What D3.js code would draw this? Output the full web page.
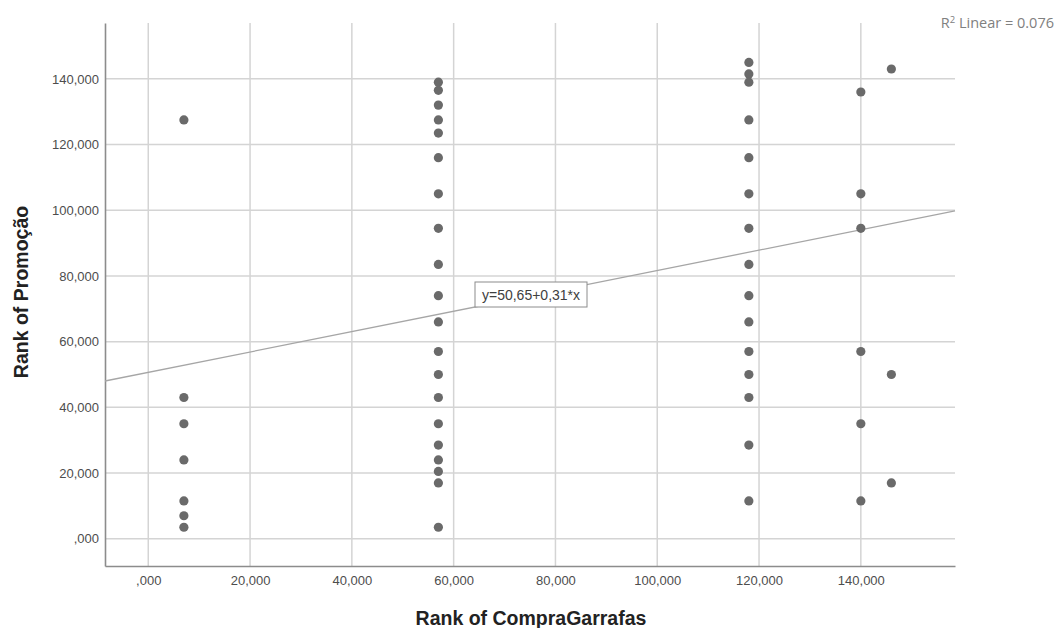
<!DOCTYPE html>
<html>
<head>
<meta charset="utf-8">
<script src="https://cdn.jsdelivr.net/npm/d3@7"></script>
<style>
  body { margin: 0; background: #fff; }
  svg { display: block; }
</style>
</head>
<body>
<div id="chart"></div>
<script>
// ranks (x = Rank of CompraGarrafas, y = Rank of Promoção)
var col1Y = [127.5, 43, 35, 24, 11.5, 7, 3.5];
var col2Y = [139, 136.5, 132, 127.5, 123.5, 116, 105, 94.5, 83.5, 74, 66, 57, 50, 43, 35, 28.5, 24, 20.5, 17, 3.5];
var col3Y = [145, 141.5, 139, 127.5, 116, 105, 94.5, 83.5, 74, 66, 57, 50, 43, 28.5, 11.5];
var col4Y = [136, 105, 94.5, 57, 35, 11.5];
var col5Y = [143, 50, 17];
var columnX = [7, 57, 118, 140, 146];

var xTicks = [0, 20, 40, 60, 80, 100, 120, 140];
var xTickLabels = [",000", "20,000", "40,000", "60,000", "80,000", "100,000", "120,000", "140,000"];
var yTicks = [0, 20, 40, 60, 80, 100, 120, 140];
var yTickLabels = [",000", "20,000", "40,000", "60,000", "80,000", "100,000", "120,000", "140,000"];

// fit line y = 50,65 + 0,31*x
var intercept = 50.65, slope = 0.31;

var width = 1055, height = 628;
var margin = {top: 23, right: 100, bottom: 62, left: 105};
var font = 'Arial, "Liberation Sans", sans-serif';

var points = [];
[col1Y, col2Y, col3Y, col4Y, col5Y].forEach(function(ys, i) {
    ys.forEach(function(y) { points.push({x: columnX[i], y: y}); });
});

var svg = d3.select('#chart').append('svg')
    .attr('width', width)
    .attr('height', height);

var x = d3.scaleLinear().domain([-8.5, 158.5]).range([margin.left, width - margin.right]);
var y = d3.scaleLinear().domain([-8.3, 157]).range([height - margin.bottom, margin.top]);

// gridlines
svg.append('g').selectAll('line')
    .data(xTicks)
    .enter().append('line')
    .attr('x1', function(d) { return x(d); })
    .attr('x2', function(d) { return x(d); })
    .attr('y1', margin.top)
    .attr('y2', height - margin.bottom)
    .attr('stroke', '#d4d4d4')
    .attr('stroke-width', 1.5);

svg.append('g').selectAll('line')
    .data(yTicks)
    .enter().append('line')
    .attr('x1', margin.left)
    .attr('x2', width - margin.right)
    .attr('y1', function(d) { return y(d); })
    .attr('y2', function(d) { return y(d); })
    .attr('stroke', '#d4d4d4')
    .attr('stroke-width', 1.5);

// axes
var xAxis = d3.axisBottom(x).tickValues(xTicks)
    .tickFormat(function(d, i) { return xTickLabels[i]; })
    .tickSize(0).tickPadding(10);
var yAxis = d3.axisLeft(y).tickValues(yTicks)
    .tickFormat(function(d, i) { return yTickLabels[i]; })
    .tickSize(0).tickPadding(6);

var gx = svg.append('g')
    .attr('transform', 'translate(0,' + (height - margin.bottom) + ')')
    .call(xAxis);
var gy = svg.append('g')
    .attr('transform', 'translate(' + margin.left + ',0)')
    .call(yAxis);

[gx, gy].forEach(function(g) {
    g.select('.domain').attr('stroke', '#8c8c8c').attr('stroke-width', 1.6);
    g.selectAll('.tick text')
        .attr('fill', '#4d4d4d')
        .style('font-family', font)
        .style('font-size', '13px');
});

// fit line
svg.append('line')
    .attr('x1', x(-8.5)).attr('y1', y(intercept + slope * -8.5))
    .attr('x2', x(158.5)).attr('y2', y(intercept + slope * 158.5))
    .attr('stroke', '#a6a6a6')
    .attr('stroke-width', 1.3);

// points
svg.append('g').selectAll('circle')
    .data(points)
    .enter().append('circle')
    .attr('cx', function(d) { return x(d.x); })
    .attr('cy', function(d) { return y(d.y); })
    .attr('r', 4.6)
    .attr('fill', '#6a6a6a');

// equation label
var lab = svg.append('g').attr('transform', 'translate(475,282)');
lab.append('rect')
    .attr('width', 112).attr('height', 25)
    .attr('fill', '#fff')
    .attr('stroke', '#8c8c8c')
    .attr('stroke-width', 1);
lab.append('text')
    .attr('x', 56).attr('y', 17.5)
    .attr('text-anchor', 'middle')
    .attr('fill', '#404040')
    .style('font-family', font)
    .style('font-size', '14px')
    .text('y=50,65+0,31*x');

// axis titles
svg.append('text')
    .attr('x', 531)
    .attr('y', 625)
    .attr('text-anchor', 'middle')
    .attr('fill', '#222')
    .style('font-family', font)
    .style('font-size', '19.5px')
    .style('font-weight', 'bold')
    .text('Rank of CompraGarrafas');

svg.append('text')
    .attr('transform', 'translate(28,292) rotate(-90)')
    .attr('text-anchor', 'middle')
    .attr('fill', '#222')
    .style('font-family', font)
    .style('font-size', '19.5px')
    .style('font-weight', 'bold')
    .text('Rank of Promoção');

// R² note
var r2 = svg.append('text')
    .attr('x', 1054)
    .attr('y', 28)
    .attr('text-anchor', 'end')
    .attr('fill', '#808080')
    .style('font-family', '"Open Sans", sans-serif')
    .style('font-size', '14.5px');
r2.append('tspan').text('R');
r2.append('tspan').attr('dy', -5).style('font-size', '9.5px').text('2');
r2.append('tspan').attr('dy', 5).text(' Linear = 0.076');
</script>
</body>
</html>
